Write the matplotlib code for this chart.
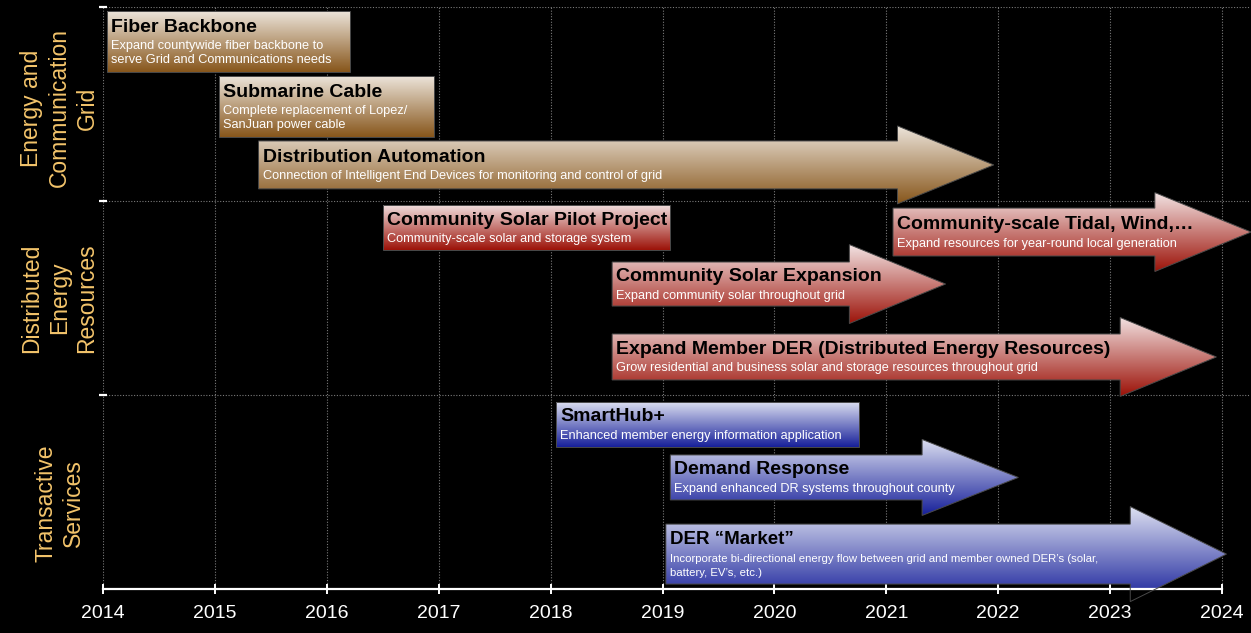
import numpy as np
import matplotlib.pyplot as plt
import matplotlib.transforms as mtransforms
from matplotlib import font_manager
from matplotlib.colors import to_rgb
from matplotlib.patches import Polygon

plt.rcParams['font.family'] = ['Liberation Sans', 'DejaVu Sans']

# ---- data ----
years = list(range(2014, 2025))
group_labels = ["Energy and\nCommunication\nGrid",
                "Distributed\nEnergy\nResources",
                "Transactive\nServices"]

task_names = ["Fiber Backbone",
              "Submarine Cable",
              "Distribution Automation",
              "Community Solar Pilot Project",
              "Community-scale Tidal, Wind,…",
              "Community Solar Expansion",
              "Expand Member DER (Distributed Energy Resources)",
              "SmartHub+",
              "Demand Response",
              "DER “Market”"]
task_desc = ["Expand countywide fiber backbone to\nserve Grid and Communications needs",
             "Complete replacement of Lopez/\nSanJuan power cable",
             "Connection of Intelligent End Devices for monitoring and control of grid",
             "Community-scale solar and storage system",
             "Expand resources for year-round local generation",
             "Expand community solar throughout grid",
             "Grow residential and business solar and storage resources throughout grid",
             "Enhanced member energy information application",
             "Expand enhanced DR systems throughout county",
             "Incorporate bi-directional energy flow between grid and member owned DER’s (solar,\nbattery, EV’s, etc.)"]
task_group = [0, 0, 0, 1, 1, 1, 1, 2, 2, 2]
task_start = [2014.04, 2015.04, 2015.39, 2016.50, 2021.06, 2018.55, 2018.55, 2018.05, 2019.07, 2019.03]
task_end = [2016.21, 2016.96, 2021.96, 2019.07, 2024.26, 2021.53, 2023.95, 2020.76, 2022.18, 2024.04]
task_arrow = [False, False, True, False, True, True, True, False, True, True]

# ---- layout (band units, 0 = top, 3 = bottom) ----
y_center = [0.178, 0.513, 0.814, 1.137, 1.160, 1.428, 1.804, 2.152, 2.425, 2.820]
body_h = [0.314, 0.314, 0.247, 0.232, 0.247, 0.227, 0.237, 0.232, 0.232, 0.309]
head_h = [0, 0, 0.402, 0, 0.407, 0.407, 0.407, 0, 0.392, 0.49]
head_len = 0.86
narrow = [False] * 9 + [True]
label_y = [0.52, 1.50, 2.557]

group_colors = [("#ece4da", "#87561b"),
                ("#f2e2e2", "#9c1208"),
                ("#dfe2f2", "#17209a")]
label_color = "#f3c46b"

# a narrow face for the last item, if one is installed
installed = {f.name for f in font_manager.fontManager.ttflist}
narrow_face = next((n for n in ["Liberation Sans Narrow", "Arial Narrow"] if n in installed), None)


def outline(x0, x1, yc, h, hh, arrow):
    if not arrow:
        return [(x0, yc - h / 2), (x1, yc - h / 2), (x1, yc + h / 2), (x0, yc + h / 2)]
    xh = x1 - head_len
    return [(x0, yc - h / 2), (xh, yc - h / 2), (xh, yc - hh / 2), (x1, yc),
            (xh, yc + hh / 2), (xh, yc + h / 2), (x0, yc + h / 2)]


fig = plt.figure(figsize=(12.51, 6.33), dpi=100, facecolor="black")
ax = fig.add_axes([103 / 1251, 44 / 633, 1147 / 1251, 582 / 633])
ax.set_facecolor("black")

for i in range(len(task_names)):
    top_c, bot_c = group_colors[task_group[i]]
    pts = outline(task_start[i], task_end[i], y_center[i], body_h[i], head_h[i], task_arrow[i])
    xs = [p[0] for p in pts]
    ys = [p[1] for p in pts]
    patch = Polygon(pts, closed=True, facecolor="none", edgecolor="#4a4a4a",
                    lw=0.7, zorder=3, clip_on=False)
    ax.add_patch(patch)
    t = np.linspace(0, 1, 256)[:, None, None]
    grad = np.array(to_rgb(top_c)) * (1 - t) + np.array(to_rgb(bot_c)) * t
    im = ax.imshow(grad, extent=(min(xs), max(xs), max(ys), min(ys)), origin="upper",
                   aspect="auto", interpolation="bilinear", zorder=2)
    im.set_clip_path(patch)

    # text block centred vertically in the body
    lines = task_desc[i].split("\n")
    block = 34 + 14 * (len(lines) - 1)
    if narrow[i] and narrow_face:
        fam, tsize, dsize = [narrow_face, 'Liberation Sans'], 14, 9.2
    elif narrow[i]:
        fam, tsize, dsize = ['Liberation Sans'], 13.5, 8.2
    else:
        fam, tsize, dsize = ['Liberation Sans'], 14, 9.2
    ax.annotate(task_names[i], xy=(task_start[i], y_center[i]), xytext=(4, block / 2 - 14),
                textcoords="offset pixels", ha="left", va="baseline", fontsize=tsize,
                fontweight="bold", color="black", family=fam, zorder=5, annotation_clip=False)
    for k, line in enumerate(lines):
        ax.annotate(line, xy=(task_start[i], y_center[i]), xytext=(4, block / 2 - 31.5 - 14 * k),
                    textcoords="offset pixels", ha="left", va="baseline", fontsize=dsize,
                    color="white", family=fam, zorder=5, annotation_clip=False)

# group labels
trans = mtransforms.blended_transform_factory(ax.transAxes, ax.transData)
for g, lab in enumerate(group_labels):
    ax.text(-0.038, label_y[g], lab, transform=trans, rotation=90, ha="center", va="center",
            multialignment="center", fontsize=16.5, linespacing=1.25, color=label_color)

ax.set_xlim(2014, 2014 + (1250 - 103) / 111.9)
ax.set_ylim(3, 0)
ax.set_xticks(years)
ax.set_xticklabels([str(y) for y in years])
ax.set_yticks([0, 1, 2])
ax.set_yticklabels([])
ax.grid(True, color="#7a7a7a", linestyle=(0, (1, 1.5)), lw=0.8)
ax.set_axisbelow(True)
for s in ["top", "right", "left"]:
    ax.spines[s].set_visible(False)
ax.spines["bottom"].set_color("white")
ax.spines["bottom"].set_linewidth(1.6)
ax.spines["bottom"].set_bounds(2014, 2024)
ax.tick_params(axis="x", colors="white", direction="inout", length=7, width=1.4,
               labelsize=14, pad=8)
ax.tick_params(axis="y", colors="white", direction="inout", length=6, width=1.6)

fig.savefig("out.png", dpi=100, facecolor="black")
